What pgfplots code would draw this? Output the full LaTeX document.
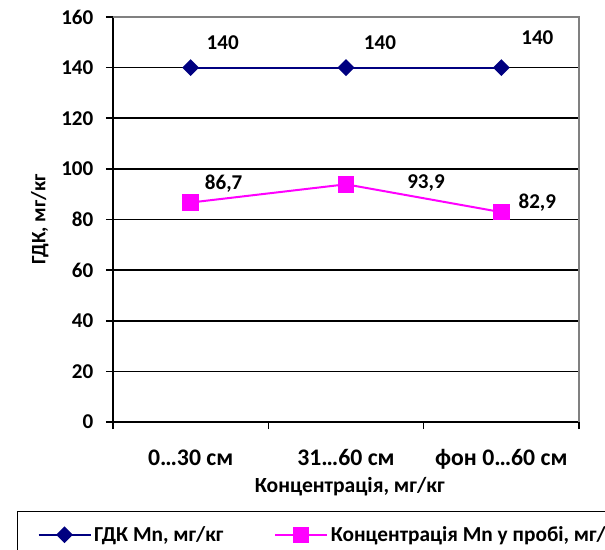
\documentclass[border=0pt]{standalone}
\usepackage{pgfplots}
\pgfplotsset{compat=1.18}
\usepackage{fontspec}
\setmainfont{Carlito Bold}
\definecolor{navyc}{RGB}{0,0,128}
\definecolor{magc}{RGB}{255,0,255}
\definecolor{bordgray}{RGB}{128,128,128}
\begin{document}
\begin{tikzpicture}
\begin{axis}[
  at={(84.75pt,95.25pt)}, anchor=south west,
  scale only axis, width=349.5pt, height=303.75pt,
  xmin=-0.5, xmax=2.5, ymin=0, ymax=160,
  ytick={0,20,...,160},
  xtick={0,1,2},
  xticklabels={0…30 см,31…60 см,фон 0…60 см},
  minor xtick={-0.5,0.5,1.5,2.5},
  major x tick style={draw=none},
  tick align=outside, tick pos=left,
  major tick length=5.25pt, minor tick length=5.25pt,
  tick style={black, line width=1.2pt},
  axis x line*=bottom, axis y line*=left,
  axis line style={black, line width=1.2pt, -},
  ymajorgrids, grid style={black, line width=1.2pt},
  font=\fontsize{15.8pt}{18pt}\selectfont,
  /pgf/number format/assume math mode=true,
  ticklabel style={font=\fontsize{15.8pt}{18pt}\selectfont},
  yticklabel style={xshift=-6pt},
  xticklabel style={anchor=base, yshift=-27pt, font=\fontsize{17.8pt}{20pt}\selectfont},
  ylabel={ГДК, мг/кг},
  ylabel style={at={(axis description cs:-0.157,0.5)}, anchor=center, font=\fontsize{15.3pt}{17pt}\selectfont},
  xlabel={Концентрація, мг/кг},
  xlabel style={at={(axis description cs:0.508,-0.160)}, anchor=center, font=\fontsize{16.2pt}{18pt}\selectfont},
  legend columns=2,
  legend style={at={(axis description cs:-0.206,-0.2198)}, anchor=north west,
    draw=black, line width=0.8pt, inner xsep=15pt, inner ysep=9pt,
    font=\fontsize{16pt}{18pt}\selectfont,
    /tikz/every even column/.append style={column sep=36pt}},
  legend cell align=left,
  legend image code/.code={\draw[#1, mark repeat=2, mark phase=2] plot coordinates {(0pt,0pt) (19.5pt,0pt) (39pt,0pt)};},
  clip=false,
]
\draw[bordgray, line width=1.2pt] (axis cs:-0.5,160) -- (axis cs:2.5,160) -- (axis cs:2.5,0);
\addplot[navyc, line width=1.5pt, mark=square*, mark size=3.7pt, mark options={rotate=45, solid, fill=navyc}]
  coordinates {(0,140) (1,140) (2,140)};
\addlegendentry{ГДК Mn, мг/кг}
\addplot[magc, line width=1.5pt, mark=square*, mark size=5.4pt, mark options={solid, fill=magc}]
  coordinates {(0,86.7) (1,93.9) (2,82.9)};
\addlegendentry{Концентрація Mn у пробі, мг/кг}
\node[inner sep=0pt, xshift=24pt, yshift=18.75pt] at (axis cs:0,140) {140};
\node[inner sep=0pt, xshift=25.5pt, yshift=18.75pt] at (axis cs:1,140) {140};
\node[inner sep=0pt, xshift=27pt, yshift=22.5pt] at (axis cs:2,140) {140};
\node[inner sep=0pt, xshift=24.75pt, yshift=14.25pt] at (axis cs:0,86.7) {86,7};
\node[inner sep=0pt, xshift=60pt, yshift=0.75pt] at (axis cs:1,93.9) {93,9};
\node[inner sep=0pt, xshift=27pt, yshift=7.5pt] at (axis cs:2,82.9) {82,9};
\end{axis}
\pgfresetboundingbox
\path[use as bounding box] (0,0) rectangle (453.75pt,411.75pt);
\end{tikzpicture}
\end{document}
